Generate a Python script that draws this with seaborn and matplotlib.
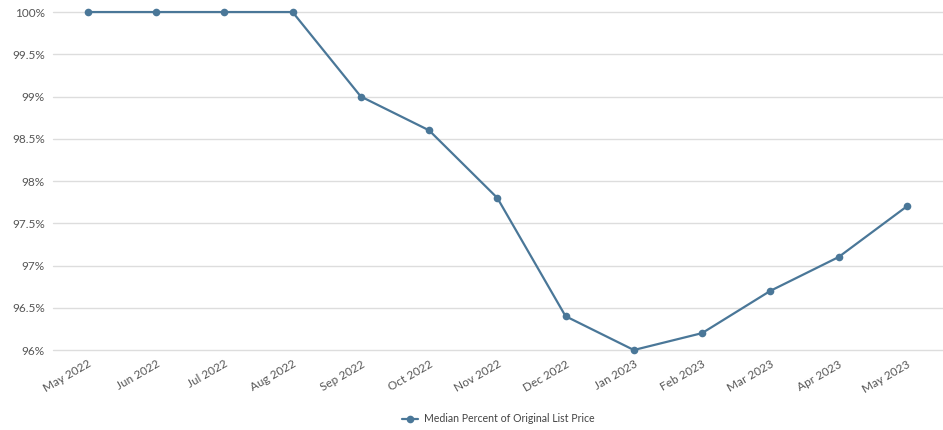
import pandas as pd
import seaborn as sns
import matplotlib.pyplot as plt
from matplotlib.ticker import FuncFormatter

months = ['May 2022', 'Jun 2022', 'Jul 2022', 'Aug 2022', 'Sep 2022', 'Oct 2022',
          'Nov 2022', 'Dec 2022', 'Jan 2023', 'Feb 2023', 'Mar 2023', 'Apr 2023', 'May 2023']
pct_of_list = [100, 100, 100, 100, 99.0, 98.6, 97.8, 96.4, 96.0, 96.2, 96.7, 97.1, 97.7]

df = pd.DataFrame({'month': months, 'pct': pct_of_list})
df['pos'] = range(len(df))

sns.set_theme(style='white')
plt.rcParams['font.family'] = ['Lato', 'DejaVu Sans']

fig = plt.figure(figsize=(9.43, 4.3), dpi=100)
ax = fig.add_axes([0.0562, 0.186, 0.9438, 0.786])

line_color = '#4a7798'
sns.lineplot(data=df, x='pos', y='pct', ax=ax, color=line_color, linewidth=1.6,
             marker='o', markersize=5.5, markeredgewidth=0, clip_on=False,
             label='Median Percent of Original List Price')

ax.set_xlim(-0.51, 12.53)
ax.set_ylim(96, 100)
ax.set_yticks([96, 96.5, 97, 97.5, 98, 98.5, 99, 99.5, 100])
ax.yaxis.set_major_formatter(FuncFormatter(lambda v, p: f'{v:g}%'))
ax.set_xticks(df['pos'])
ax.set_xticklabels(months, rotation=30, ha='right', rotation_mode='anchor')
ax.tick_params(axis='x', labelsize=8.5, colors='#555555', pad=6, length=0)
ax.tick_params(axis='y', labelsize=8.5, colors='#555555', pad=6, length=0)
ax.grid(axis='y', color='#dddddd', linewidth=1)
for gl in ax.get_ygridlines():
    gl.set_clip_on(False)
ax.set_axisbelow(True)
for s in ax.spines.values():
    s.set_visible(False)
ax.set_xlabel('')
ax.set_ylabel('')

leg = ax.legend(loc='center', bbox_to_anchor=(0.5, -0.204), frameon=False,
                fontsize=7.6, handlelength=1.6, handletextpad=0.5)
for t in leg.get_texts():
    t.set_color('#444444')

fig.savefig('out.png', dpi=100)
